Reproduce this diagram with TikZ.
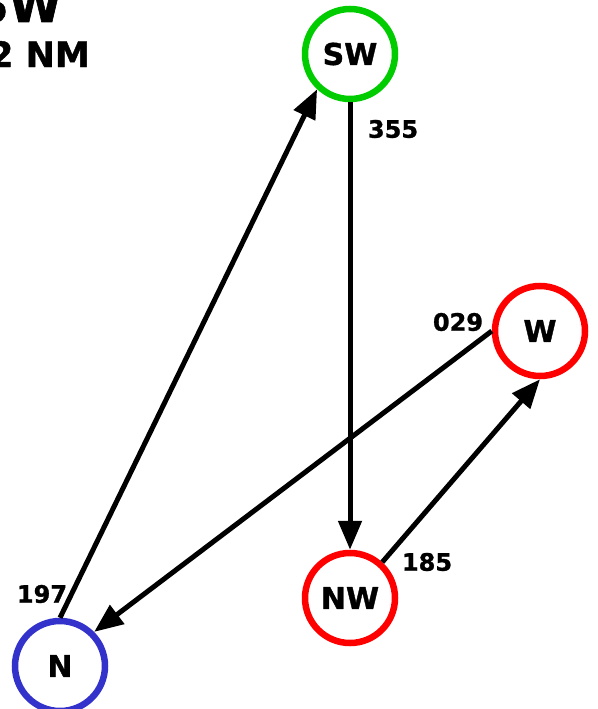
\documentclass[tikz,border=0pt]{standalone}
\usepackage{fontspec}
\setmainfont{DejaVu Sans}[BoldFeatures={FakeBold=1.2}]
\usetikzlibrary{arrows.meta,positioning}

\definecolor{ptgreen}{RGB}{0,204,0}
\definecolor{ptred}{RGB}{255,0,0}
\definecolor{ptblue}{RGB}{51,51,204}

\tikzset{
  wpt/.style={circle,draw=#1,line width=6.5pt,minimum size=90pt,inner sep=0pt,
    font=\bfseries\fontsize{30}{30}\selectfont},
  leg/.style={line width=5pt,-{Triangle[length=29pt,width=23pt]}},
  brg/.style={inner sep=0pt,font=\bfseries\fontsize{24}{24}\selectfont}
}

\begin{document}
\begin{tikzpicture}[x=1pt,y=-1pt]
		\useasboundingbox (0,0) rectangle (597,709);
		\clip (0,0) rectangle (597,709);
		% heading, cut off at the edge
		\node[inner sep=0pt,anchor=base east,font=\bfseries\fontsize{48}{48}\selectfont] (hdg) at (62,22) {SW};
		\node[inner sep=0pt,anchor=base east,font=\bfseries\fontsize{35}{35}\selectfont] (dist) at (90,67) {2 NM};
		%% the waypoints
		\node[wpt=ptgreen] (SW) at (350,54) {SW};
		\node[wpt=ptred] (W) at (540,331) {W};
		\node[wpt=ptred] (NW) at (350,598) {NW};
		\node[wpt=ptblue] (N) at (60,666) {N};
		%% the legs
		\draw[leg] (SW.south) -- (NW.north);
		\draw[leg] (NW.48) -- (W.south);
		\draw[leg] (W.west) -- (N.45);
		\draw[leg] (N.north) -- (SW.227);
		%% the bearings
		\node[brg] (b355) at (393,129) {355};
		\node[brg] (b029) at (458,322) {029};
		\node[brg] (b185) at (427,562) {185};
		\node[brg] (b197) at (42,594) {197};
\end{tikzpicture}
\end{document}
